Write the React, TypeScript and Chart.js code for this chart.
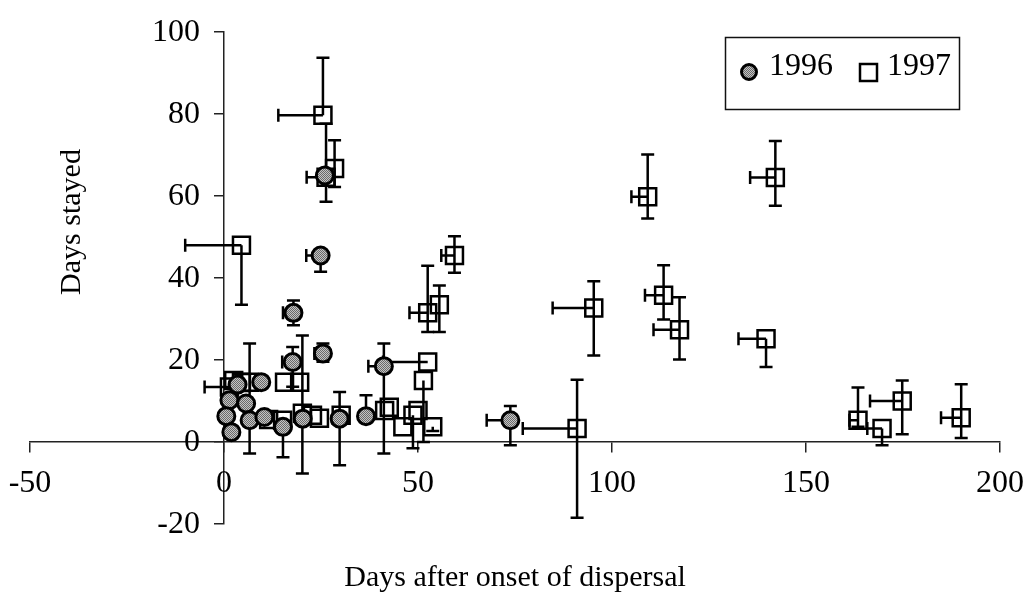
import React, { useEffect, useRef } from 'react';
import { Chart, registerables } from 'chart.js';

Chart.register(...registerables);

// Axis ranges / tick labels
const xMin = -50;
const xMax = 200;
const xStep = 50;
const yMin = -20;
const yMax = 100;
const yStep = 20;

const xTitle = 'Days after onset of dispersal';
const yTitle = 'Days stayed';
const seriesNames = ['1996', '1997'];

// 1996 (grey circles): position and error extents (left, up, down)
const x1996 = [26.0, 24.9, 17.9, 25.5, 17.7, 41.2, 9.6, 1.4, 5.7, 0.6, 6.6, 10.4, 1.9, 15.2, 20.3, 29.8, 36.6, 73.8, 3.5];
const y1996 = [65.0, 45.5, 31.5, 21.6, 19.5, 18.5, 14.6, 10.2, 9.4, 6.3, 5.3, 6.1, 2.4, 3.7, 5.7, 5.7, 6.3, 5.3, 14.0];
const xErrL1996 = [0, 3.7, 2.7, 2.2, 2.7, 4.0, 0, 0, 0, 0, 0, 0, 0, 0, 0, 0, 0, 6.1, 0];
const yErrU1996 = [0, 0, 3.0, 2.4, 3.7, 5.5, 0, 0, 0, 0, 0, 0, 0, 0, 0, 6.5, 5.1, 3.5, 0];
const yErrD1996 = [0, 4.0, 3.0, 2.0, 6.0, 21.3, 0, 0, 0, 0, 0, 0, 0, 7.4, 0, 11.4, 0, 6.1, 0];

// 1997 (open squares)
const x1997 = [4.5, 25.5, 26.3, 28.5, 59.4, 52.5, 55.5, 52.5, 51.4, 53.8, 91.0, 95.3, 109.2, 113.3, 117.4, 142.1, 139.7, 163.4, 169.6, 174.8, 190.0, 1.4, 4.5, 6.6, 15.6, 19.5, 15.1, 20.2, 24.6, 30.2, 41.4, 42.6, 46.1, 48.7, 50.0, 11.5, 2.5, 22.8];
const y1997 = [48.0, 79.7, 64.6, 66.7, 45.5, 31.5, 33.5, 19.5, 15.0, 3.7, 3.3, 32.7, 59.8, 35.8, 27.4, 64.5, 25.2, 5.3, 3.3, 10.0, 5.9, 13.4, 14.5, 14.6, 14.6, 14.6, 5.3, 7.0, 5.8, 6.5, 7.7, 8.5, 3.7, 6.5, 7.7, 5.5, 15.0, 6.5];
const xErrL1997 = [14.5, 11.5, 5.0, 0, 3.4, 4.7, 0, 11.5, 0, 0, 14.0, 10.6, 4.2, 4.8, 6.7, 6.5, 7.1, 2.2, 3.8, 8.3, 5.2, 6.4, 0, 0, 0, 0, 0, 0, 0, 0, 0, 0, 0, 0, 0, 0, 0, 0];
const yErrU1997 = [0, 14.0, 13.0, 6.9, 4.7, 11.5, 4.7, 0, 0, 0, 11.9, 6.5, 10.3, 7.3, 7.9, 8.9, 0, 8.0, 0, 5.0, 8.2, 0, 0, 9.4, 0, 0, 0, 19.0, 0, 0, 0, 0, 0, 0, 0, 0, 0, 0];
const yErrD1997 = [14.5, 0, 6.0, 4.5, 4.2, 4.7, 6.7, 0, 15.0, 1.0, 21.8, 11.6, 5.3, 5.9, 7.3, 6.9, 6.9, 1.6, 4.1, 8.1, 4.9, 0, 0, 17.4, 0, 0, 0, 14.7, 0, 0, 0, 0, 0, 8.0, 0, 0, 0, 0];

const FONT = "'Liberation Serif', 'Times New Roman', Times, serif";

function buildPoints(xs: number[], ys: number[], xl: number[], yu: number[], yd: number[]) {
  return xs.map((x, i) => ({ x, y: ys[i], xl: xl[i], yu: yu[i], yd: yd[i] }));
}

function makeGreyPattern(): CanvasPattern | string {
  const c = document.createElement('canvas');
  c.width = 2;
  c.height = 2;
  const g = c.getContext('2d');
  if (!g) return '#999';
  g.fillStyle = '#c4c4c4';
  g.fillRect(0, 0, 2, 2);
  g.fillStyle = '#6a6a6a';
  g.fillRect(0, 0, 1, 1);
  g.fillRect(1, 1, 1, 1);
  const p = g.createPattern(c, 'repeat');
  return p || '#999';
}

const errorBarPlugin = {
  id: 'errorBars',
  beforeDatasetsDraw(chart: any) {
    const { ctx, scales } = chart;
    const xs = scales.x;
    const ys = scales.y;
    const cap = 6.5;
    ctx.save();
    ctx.strokeStyle = '#000';
    ctx.lineWidth = 2.5;
    ctx.lineCap = 'butt';
    chart.data.datasets.forEach((ds: any) => {
      ds.data.forEach((p: any) => {
        const px = xs.getPixelForValue(p.x);
        const py = ys.getPixelForValue(p.y);
        ctx.beginPath();
        if (p.xl > 0) {
          const lx = xs.getPixelForValue(p.x - p.xl);
          ctx.moveTo(px, py);
          ctx.lineTo(lx, py);
          ctx.moveTo(lx, py - cap);
          ctx.lineTo(lx, py + cap);
        }
        if (p.yu > 0) {
          const ty = ys.getPixelForValue(p.y + p.yu);
          ctx.moveTo(px, py);
          ctx.lineTo(px, ty);
          ctx.moveTo(px - cap, ty);
          ctx.lineTo(px + cap, ty);
        }
        if (p.yd > 0) {
          const by = ys.getPixelForValue(p.y - p.yd);
          ctx.moveTo(px, py);
          ctx.lineTo(px, by);
          ctx.moveTo(px - cap, by);
          ctx.lineTo(px + cap, by);
        }
        ctx.stroke();
      });
    });
    ctx.restore();
  },
};

const decorPlugin = {
  id: 'decor',
  afterDraw(chart: any) {
    const { ctx, scales } = chart;
    const ds = chart.data.datasets;
    const xs = scales.x;
    const ys = scales.y;
    ctx.save();
    ctx.fillStyle = '#000';

    // tick labels next to the crossing axes
    const axisX = xs.getPixelForValue(0);
    const axisY = ys.getPixelForValue(0);
    ctx.font = `32px ${FONT}`;
    ctx.textBaseline = 'middle';
    ctx.textAlign = 'right';
    ys.ticks.forEach((t: any) => {
      ctx.fillText(String(t.value), axisX - 24, ys.getPixelForValue(t.value) + 1);
    });
    ctx.textAlign = 'center';
    xs.ticks.forEach((t: any) => {
      ctx.fillText(String(t.value), xs.getPixelForValue(t.value), axisY + 42);
    });

    // axis titles
    ctx.font = `30px ${FONT}`;
    ctx.textAlign = 'center';
    ctx.textBaseline = 'alphabetic';
    ctx.fillText(xTitle, 515, 586);
    ctx.save();
    ctx.translate(80, 222);
    ctx.rotate(-Math.PI / 2);
    ctx.fillText(yTitle, 0, 0);
    ctx.restore();

    // legend box
    ctx.strokeStyle = '#111';
    ctx.lineWidth = 1.5;
    ctx.strokeRect(725.5, 37.5, 234, 72);
    // 1996 marker
    ctx.beginPath();
    ctx.arc(749, 72, 7.5, 0, Math.PI * 2);
    ctx.fillStyle = ds[0].backgroundColor;
    ctx.fill();
    ctx.lineWidth = 3;
    ctx.strokeStyle = '#000';
    ctx.stroke();
    // 1997 marker
    ctx.lineWidth = 2.5;
    ctx.strokeRect(860, 64, 17, 17);
    ctx.fillStyle = '#000';
    ctx.font = `32px ${FONT}`;
    ctx.textAlign = 'left';
    ctx.fillText(seriesNames[0], 769, 75);
    ctx.fillText(seriesNames[1], 887, 75);
    ctx.restore();
  },
};

export default function App() {
  const ref = useRef<HTMLCanvasElement | null>(null);

  useEffect(() => {
    if (!ref.current) return;
    const grey = makeGreyPattern();
    const chart = new Chart(ref.current, {
      type: 'scatter',
      data: {
        datasets: [
          {
            label: seriesNames[0],
            data: buildPoints(x1996, y1996, xErrL1996, yErrU1996, yErrD1996),
            pointStyle: 'circle',
            pointRadius: 8.5,
            borderWidth: 3,
            borderColor: '#000',
            backgroundColor: grey as any,
          },
          {
            label: seriesNames[1],
            data: buildPoints(x1997, y1997, xErrL1997, yErrU1997, yErrD1997),
            pointStyle: 'rect',
            pointRadius: 12,
            borderWidth: 2.5,
            borderColor: '#000',
            backgroundColor: 'rgba(0,0,0,0)',
          },
        ],
      },
      options: {
        animation: false,
        responsive: false,
        maintainAspectRatio: false,
        layout: { padding: { left: 30, right: 33, top: 32, bottom: 68 } },
        plugins: {
          legend: { display: false },
          tooltip: { enabled: false },
          title: { display: false },
        },
        scales: {
          x: {
            type: 'linear',
            min: xMin,
            max: xMax,
            position: { y: 0 } as any,
            grid: { display: true, drawOnChartArea: false, drawTicks: true, tickLength: 10, color: '#222', lineWidth: 1.5 },
            border: { display: true, color: '#222', width: 1.5 },
            ticks: { stepSize: xStep, display: false, font: { family: FONT, size: 32 } },
          },
          y: {
            type: 'linear',
            min: yMin,
            max: yMax,
            position: { x: 0 } as any,
            grid: { display: true, drawOnChartArea: false, drawTicks: true, tickLength: 9, color: '#222', lineWidth: 1.5 },
            border: { display: true, color: '#222', width: 1.5 },
            ticks: { stepSize: yStep, display: false, font: { family: FONT, size: 32 } },
          },
        },
      },
      plugins: [errorBarPlugin, decorPlugin],
    });
    return () => chart.destroy();
  }, []);

  return (
    <div style={{ position: 'absolute', left: 0, top: 0, width: 1033, height: 592, background: '#fff' }}>
      <canvas ref={ref} width={1033} height={592} style={{ width: 1033, height: 592, display: 'block' }} />
    </div>
  );
}
